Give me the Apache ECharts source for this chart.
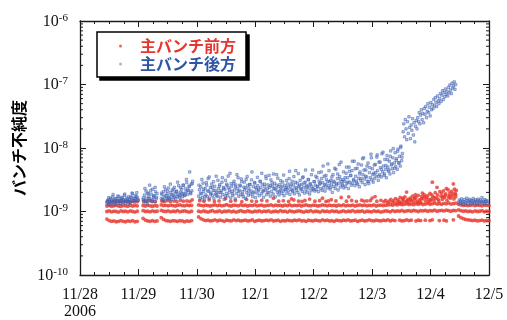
<!DOCTYPE html>
<html>
<head>
<meta charset="utf-8">
<script src="https://cdn.jsdelivr.net/npm/echarts@6.0.0/dist/echarts.min.js"></script>
<style>
  html, body { margin: 0; padding: 0; background: #fff; }
  #chart { width: 507px; height: 320px; }
</style>
</head>
<body>
<div id="chart"></div>
<script>
// x: days elapsed since 2006-11-28 00:00, y: bunch impurity (log scale)
const dayLabels = ['11/28\n2006', '11/29', '11/30', '12/1', '12/2', '12/3', '12/4', '12/5'];
const yMinExp = -10;
const yMaxExp = -6;
const UNIT = 1e-9;   // all readings below are in units of 1e-9

// Start of each logging run (days); readings inside a run are evenly spaced
const runStart = [0.46, 1.08, 1.39, 2.03, 6.48];
const frontStep = 0.04;
const backStep = 0.0125;
const backStep2 = 0.025;
const backOffset2 = 0.006;

// Main bunch, front side: three discrete levels, one list per run (null = no reading)
const frontLevelHigh = [
  [1.22,1.24,1.21,1.23,1.25,1.22,1.20,1.24,1.23,1.21,1.25,1.22,1.24,1.23],
  [1.24,1.22,1.25,1.23,1.21,1.24,1.22],
  [1.27,1.24,1.25,1.23,1.26,1.24,1.22,1.25,1.27,1.24,1.23,1.26,1.24,1.25],
  [1.27,1.25,1.23,1.26,1.24,1.22,1.25,1.27,1.24,1.26,
   1.23,1.25,1.28,1.24,1.22,1.26,1.25,1.23,1.27,1.24,
   1.26,1.22,1.25,1.24,1.27,1.23,1.25,1.26,1.22,1.24,
   1.25,1.27,1.23,1.26,1.24,1.25,1.22,1.26,1.24,1.27,
   1.23,1.25,1.24,1.26,1.22,1.25,1.27,1.24,1.23,1.26,
   1.25,1.22,1.24,1.27,1.25,1.23,1.26,1.24,1.25,1.22,
   1.26,1.24,1.27,1.23,1.25,1.24,1.26,1.22,1.25,1.27,
   1.24,1.26,1.23,1.25,1.24,1.27,1.22,1.25,1.26,1.24,
   1.25,1.27,1.29,1.26,1.30,1.27,1.31,1.28,1.30,1.32,
   1.29,1.31,1.28,1.32,1.30,1.33,1.29,1.31,1.34,1.30,
   1.32,1.35,1.31,1.33,1.30,1.34,1.32,1.36,1.31,1.33,
   1.35],
  [1.30,1.27,1.25,1.26,1.24,1.25,1.27,1.24,1.26,1.25,1.23,1.26,1.25,1.24]
];
const frontLevelMid = [
  [1.00,1.02,0.99,1.01,1.00,0.98,1.02,1.00,1.01,0.99,1.02,1.00,0.98,1.01],
  [1.03,1.00,1.01,0.99,1.02,1.00,1.01],
  [1.04,1.01,1.00,1.02,0.99,1.01,1.00,1.03,0.99,1.01,1.02,1.00,0.98,1.01],
  [1.01,0.99,1.02,1.00,0.98,1.01,1.03,0.99,1.00,1.02,
   0.98,1.01,1.00,1.02,0.99,1.01,0.98,1.00,1.03,1.00,
   0.99,1.02,1.00,0.98,1.01,1.00,1.02,0.99,1.01,1.00,
   1.02,0.98,1.00,1.01,0.99,1.03,1.00,1.01,0.98,1.02,
   1.00,0.99,1.01,1.02,1.00,0.98,1.01,1.00,1.03,0.99,
   1.01,1.00,0.98,1.02,1.00,1.01,0.99,1.02,1.00,1.01,
   0.98,1.00,1.02,0.99,1.01,1.00,1.03,0.99,1.01,1.00,
   1.02,0.98,1.01,1.00,0.99,1.02,1.00,1.01,0.98,1.00,
   1.02,1.01,0.99,1.03,1.00,1.02,1.01,1.04,1.00,1.02,
   1.03,1.01,1.04,1.02,1.00,1.03,1.02,1.04,1.01,1.03,
   1.02,1.05,1.01,1.03,1.04,1.02,1.05,1.03,1.01,1.04,
   1.03],
  [1.06,1.03,1.01,1.02,1.00,1.01,0.99,1.02,1.00,1.01,1.03,0.99,1.01,1.00]
];
const frontLevelLow = [
  [0.76,0.72,0.70,0.71,0.69,0.70,0.72,0.70,0.69,0.71,0.70,0.72,0.69,0.70],
  [0.78,0.73,0.71,0.70,0.72,0.70,0.71],
  [0.80,0.75,0.72,0.71,0.70,0.72,0.71,0.70,0.72,0.71,0.69,0.71,0.70,0.72],
  [0.82,0.77,0.74,0.72,0.73,0.71,0.72,0.74,0.71,0.73,
   0.72,0.70,0.73,0.72,0.71,0.74,0.72,0.73,0.71,0.72,
   0.73,0.71,0.72,0.74,0.70,0.72,0.73,0.71,0.72,0.73,
   0.72,0.74,0.71,0.72,0.73,0.70,0.72,0.71,0.73,0.72,
   0.71,0.73,0.72,0.74,0.71,0.72,0.70,0.73,0.72,0.71,
   0.73,0.72,0.71,0.74,0.72,0.73,0.71,0.72,0.70,0.73,
   0.72,0.71,0.73,0.72,0.74,0.71,0.72,0.73,0.70,0.72,
   0.73,0.71,0.72,0.74,0.72,0.71,0.73,0.72,0.71,0.73,
   0.72,0.74,0.71,0.73,0.72,null,0.73,0.71,0.72,0.74,
   0.72,0.73,null,0.71,0.73,0.72,null,0.73,null,0.72,
   0.74,null,null,0.72,null,0.73,0.71,null,null,0.74,
   null],
  [0.85,0.80,0.77,0.75,0.74,0.73,0.72,0.73,0.71,0.72,0.73,0.71,0.72,0.72]
];
// Front-side readings off the main levels: [day, value]
const frontOutliers = [
  [0.47,1.45],[0.52,1.43],[0.57,1.46],[0.61,1.42],[0.66,1.44],[0.71,1.47],[0.75,1.43],[0.80,1.45],
  [0.85,1.41],[0.89,1.44],[0.94,1.46],[0.98,1.43],
  [1.09,1.47],[1.13,1.44],[1.18,1.49],[1.24,1.45],[1.29,1.42],
  [1.40,1.46],[1.44,1.43],[1.50,1.48],[1.55,1.44],[1.61,1.46],[1.66,1.42],[1.72,1.50],[1.77,1.45],
  [1.83,1.47],[1.88,1.44],[1.92,1.52],
  [2.05,1.48],[2.12,1.45],[2.21,1.52],[2.30,1.44],[2.38,1.47],[2.49,1.60],[2.58,1.45],[2.66,1.49],
  [2.77,1.43],[2.85,1.55],[2.94,1.46],[3.02,1.44],[3.11,1.50],[3.20,1.47],[3.31,1.62],[3.40,1.45],
  [3.48,1.48],[3.57,1.44],[3.62,1.58],[3.66,1.52],[3.74,1.46],[3.80,1.44],[3.85,1.49],[3.93,1.57],
  [4.02,1.45],[4.10,1.48],[4.15,1.62],[4.21,1.44],[4.25,1.47],[4.30,1.53],[4.38,1.47],[4.47,1.66],
  [4.56,1.45],[4.60,1.70],[4.65,1.49],[4.73,1.44],[4.82,1.51],[4.86,1.46],[4.91,1.47],[4.97,1.49],
  [5.00,1.63],[5.05,1.72],[5.08,1.45],[5.15,1.50],
  [5.20,1.42],[5.23,1.50],[5.26,1.38],[5.29,1.45],[5.32,1.55],[5.35,1.40],[5.37,1.48],[5.40,1.60],
  [5.42,1.36],[5.44,1.52],[5.46,1.44],[5.48,1.66],[5.50,1.39],[5.52,1.57],[5.54,1.47],[5.56,1.70],
  [5.58,1.42],[5.59,2.02],[5.61,1.55],[5.63,1.37],[5.65,1.62],[5.67,1.49],[5.69,1.75],[5.71,1.41],
  [5.73,1.58],[5.75,1.68],[5.77,1.45],[5.79,1.80],[5.81,1.52],[5.83,1.40],[5.85,1.72],[5.87,1.60],
  [5.89,1.85],[5.91,1.47],[5.93,1.66],[5.95,1.78],[5.97,1.42],[5.99,1.92],[6.01,1.56],[6.03,2.90],
  [6.04,1.70],[6.06,1.48],[6.08,1.98],[6.10,1.62],[6.12,1.82],[6.14,1.45],[6.16,2.05],[6.18,1.74],
  [6.20,1.55],[6.22,2.12],[6.24,1.66],[6.26,1.90],[6.28,1.50],[6.30,2.20],[6.32,1.78],[6.34,1.62],
  [6.36,2.08],[6.38,1.88],[6.39,2.72],[6.40,1.58],[6.41,2.25],[6.42,1.95],[6.43,1.70],[6.44,2.15],
  [5.47,1.35],[5.53,1.62],[5.60,1.48],[5.66,1.53],[5.72,1.63],[5.78,1.38],[5.84,1.58],[5.90,1.70],
  [5.96,1.55],[6.02,1.83],[6.07,1.65],[6.13,1.55],[6.19,1.95],[6.25,1.80],[6.31,1.68],[6.37,1.75],
  [6.43,1.85],[6.00,1.50],[6.11,2.40],[6.27,2.30],[6.33,1.95],[5.86,1.95],[5.74,1.85],[6.21,1.70]
];

// Main bunch, back side: one list per run
const backReadings = [
  [1.35,1.48,1.28,1.55,1.40,1.62,1.33,1.45,1.70,1.38,
   1.52,1.30,1.60,1.44,1.36,1.75,1.50,1.42,1.58,1.32,
   1.47,1.66,1.39,1.54,1.80,1.45,1.35,1.63,1.50,1.41,
   1.72,1.56,1.38,1.48,1.68,1.90,1.46,1.60,1.40,1.77,
   1.53,1.98,1.64,1.49],
  [1.55,1.38,1.82,1.47,2.10,1.62,1.35,1.95,1.70,2.60,
   1.50,1.88,1.42,2.25,1.66,1.78,1.45,2.05,1.58,1.92],
  [1.60,1.85,1.52,2.05,1.72,1.48,2.20,1.66,1.90,1.58,
   2.35,1.75,1.62,2.00,1.54,2.15,1.80,1.68,2.40,1.95,
   1.57,2.10,1.73,1.88,2.55,1.65,2.02,1.82,2.25,1.70,
   2.60,1.92,1.78,2.30,2.05,2.85,1.86,2.18,2.48,4.20,
   1.98,2.70,2.12,3.00],
  [1.75,2.20,1.58,2.45,1.90,1.66,2.80,2.05,1.52,2.30,
   1.82,2.60,1.70,3.30,2.10,1.62,2.38,1.95,2.70,1.78,
   2.15,1.60,2.50,1.88,3.60,2.02,1.72,2.28,1.98,2.65,
   1.68,2.12,2.90,1.85,2.40,1.55,2.22,3.10,1.93,2.55,
   1.76,2.35,2.00,4.00,1.64,2.48,2.08,1.80,2.75,2.18,
   1.58,2.62,1.92,2.30,3.40,1.74,2.15,2.52,1.86,2.95,
   2.05,1.70,2.42,2.20,1.62,3.20,1.98,2.58,1.80,2.32,
   2.68,1.88,2.10,4.20,1.72,2.45,2.02,2.85,1.66,2.25,
   1.95,2.55,2.12,1.78,3.00,2.38,1.90,2.70,2.05,1.68,
   2.48,2.18,3.60,1.84,2.28,2.62,1.98,2.40,1.75,3.15,
   2.08,2.52,1.88,2.30,2.78,1.70,2.20,3.80,2.00,2.45,
   1.82,2.65,2.15,2.35,1.92,2.90,2.10,1.78,2.58,2.25,
   2.40,1.95,2.72,2.12,3.30,1.86,2.50,2.22,3.00,2.05,
   2.62,1.90,2.35,4.40,2.15,2.80,2.00,2.48,1.82,3.10,
   2.28,2.68,2.08,3.50,2.42,1.95,2.90,2.20,2.55,2.02,
   3.20,2.35,1.88,2.75,2.12,2.50,4.50,2.25,2.95,2.10,
   2.60,2.20,3.40,2.45,2.05,3.00,2.70,2.30,4.20,2.15,
   2.85,2.40,3.60,2.10,2.65,3.20,2.35,5.60,2.55,2.95,
   2.25,3.10,2.70,2.00,3.80,2.48,2.90,2.30,4.60,2.62,
   3.30,2.18,2.80,3.55,2.42,6.00,2.95,2.58,3.15,2.35,
   3.00,2.50,4.00,2.75,3.40,2.30,5.00,2.90,3.70,2.60,
   4.40,2.80,3.20,6.20,2.55,3.60,3.00,4.80,2.70,3.35,
   2.45,4.20,3.10,5.40,2.85,3.80,7.00,3.25,2.65,4.50,
   3.50,3.00,5.80,2.75,4.10,3.40,8.00,3.15,4.70,2.90,
   4.00,3.30,5.50,3.60,7.20,4.40,3.10,6.00,3.80,4.90,
   3.50,8.10,4.20,5.20,3.70,6.60,4.60,3.40,7.60,5.00,
   4.30,6.20,3.90,9.00,5.40,4.70,7.00,4.10,5.80,8.40,
   5.10,6.80,4.60,9.60,5.80,7.40,5.20,10.7,6.30,8.20,
   18.0,24.0,15.0,28.0,20.0,13.5,26.0,17.0,31.0,21.0,
   14.0,23.0,19.0,29.0,16.0,25.0,12.5,22.0,27.0,20.0,
   30.0,26.0,36.0,24.0,33.0,40.0,28.0,35.0,25.0,42.0,
   34.0,45.0,30.0,38.0,50.0,36.0,44.0,32.0,52.0,40.0,
   48.0,42.0,58.0,46.0,62.0,52.0,45.0,66.0,55.0,50.0,
   60.0,72.0,54.0,68.0,80.0,58.0,75.0,64.0,85.0,70.0,
   78.0,66.0,90.0,74.0,98.0,82.0,72.0,105.0,88.0,95.0,
   110.0,84.0,100.0],
  [1.40,1.52,1.35,1.46,1.58,1.38,1.44,1.30,1.55,1.42,
   1.36,1.62,1.48,1.33,1.45,1.56,1.39,1.50,1.34,1.47,
   1.60,1.41,1.37,1.53,1.44,1.32,1.49,1.57,1.40,1.36,
   1.51,1.43,1.65,1.38,1.46,1.34,1.54,1.42,1.48,1.35,
   1.45]
];
// Back side, interleaved second reading set (runs 1-4, until the jump on 12/3)
const backReadings2 = [
  [1.42,1.65,1.30,1.52,1.85,1.38,1.58,1.47,1.72,1.34,1.62,
   1.50,1.88,1.44,1.56,1.36,1.68,1.95,1.48,1.60,1.74,1.52],
  [1.65,2.30,1.45,1.90,1.60,2.15,1.52,1.75,2.40,1.68],
  [1.95,1.55,2.45,1.78,2.10,1.62,2.70,1.85,2.25,1.70,2.05,
   2.90,1.76,2.38,1.95,2.60,1.82,3.20,2.15,2.50,1.90,2.75],
  [2.60,1.95,3.20,2.25,1.72,2.85,2.10,3.50,1.88,2.40,
   2.95,2.15,1.80,3.10,2.50,2.00,3.40,2.30,1.75,2.70,
   3.60,2.20,2.75,1.90,3.00,2.45,3.80,2.05,2.60,3.25,
   1.85,2.90,2.35,3.55,2.10,2.65,3.15,1.95,2.80,2.40,
   3.45,2.25,2.95,4.00,2.15,2.70,3.30,2.00,3.70,2.55,
   2.85,3.90,2.30,2.60,3.35,2.05,3.05,2.50,3.75,2.20,
   3.10,2.40,4.30,2.70,2.15,3.55,2.90,2.35,3.95,2.60,
   2.25,3.40,2.80,4.50,2.45,3.15,2.65,3.80,2.30,2.95,
   3.60,2.50,4.10,2.80,3.30,5.20,2.60,3.70,2.95,4.40,
   2.40,3.50,3.00,4.80,2.75,3.90,5.50,3.20,2.70,4.20,
   3.40,5.00,2.90,4.30,3.70,6.20,3.10,4.70,2.80,5.60,
   3.90,3.30,6.80,4.50,3.60,5.20,2.95,4.90,7.00,3.80,
   5.40,4.10,7.80,3.60,6.00,4.60,8.60,3.90,5.30,6.60,
   4.50,7.40,5.60,9.80,4.80,6.40,8.90,5.90,10.2,7.20]
];

// Log-axis minor tick mantissas (2..9 within each decade)
const minorMantissas = [2, 3, 4, 5, 6, 7, 8, 9];

function runsToPoints(runs, step, offset) {
  const pts = [];
  runs.forEach((run, r) => {
    run.forEach((v, i) => {
      if (v !== null) pts.push([runStart[r] + offset + i * step, v * UNIT]);
    });
  });
  return pts;
}

const frontData = []
  .concat(runsToPoints(frontLevelLow, frontStep, 0))
  .concat(runsToPoints(frontLevelMid, frontStep, 0))
  .concat(runsToPoints(frontLevelHigh, frontStep, 0))
  .concat(frontOutliers.map(p => [p[0], p[1] * UNIT]));
const backData = runsToPoints(backReadings, backStep, 0)
  .concat(runsToPoints(backReadings2, backStep2, backOffset2));

const minorTickData = [];
for (let e = yMinExp; e < yMaxExp; e++) {
  minorMantissas.forEach(m => minorTickData.push([0, m * Math.pow(10, e)]));
}

const AXIS_COLOR = '#1a1a1a';
const SERIF = 'Liberation Serif';
const JP = 'Noto Sans CJK JP';
const FRONT_NAME = '主バンチ前方';
const BACK_NAME = '主バンチ後方';
const yMin = Math.pow(10, yMinExp);
const yMax = Math.pow(10, yMaxExp);

const chart = echarts.init(document.getElementById('chart'), null, { renderer: 'canvas' });

const xCommon = {
  type: 'value', min: 0, max: 7, interval: 1,
  axisLine: { show: true, onZero: false, lineStyle: { color: AXIS_COLOR, width: 1.3 } },
  axisTick: { show: true, inside: true, length: 6, lineStyle: { color: AXIS_COLOR, width: 1 } },
  minorTick: { show: true, splitNumber: 4, length: 3, lineStyle: { color: AXIS_COLOR, width: 1 } },
  splitLine: { show: false }
};
const yCommon = {
  type: 'log', logBase: 10, min: yMin, max: yMax,
  axisLine: { show: true, onZero: false, lineStyle: { color: AXIS_COLOR, width: 1.3 } },
  axisTick: { show: true, inside: true, length: 6, lineStyle: { color: AXIS_COLOR, width: 1 } },
  splitLine: { show: false }
};

// Legend box; the second copy, filled black and shifted, acts as its drop shadow
const legendBase = {
  orient: 'vertical',
  padding: [6, 10, 5, 22],
  itemGap: 2,
  itemWidth: 3, itemHeight: 3,
  icon: 'circle',
  selectedMode: false,
  textStyle: { fontFamily: JP, fontSize: 16, fontWeight: 'bold', lineHeight: 16, padding: [0, 0, 0, 13] }
};

chart.setOption({
  animation: false,
  backgroundColor: '#fff',
  grid: { left: 80, right: 18, top: 21, bottom: 43, containLabel: false },
  legend: [
    Object.assign({}, legendBase, {
      left: 100, top: 35, z: 3,
      backgroundColor: '#000', borderColor: '#000', borderWidth: 1.5,
      data: [
        { name: FRONT_NAME, textStyle: { color: '#000' }, itemStyle: { color: '#000', borderWidth: 0 } },
        { name: BACK_NAME, textStyle: { color: '#000' }, itemStyle: { color: '#000', borderWidth: 0 } }
      ]
    }),
    Object.assign({}, legendBase, {
      left: 97, top: 32, z: 4,
      backgroundColor: '#fff', borderColor: '#000', borderWidth: 1.5,
      data: [
        { name: FRONT_NAME, textStyle: { color: '#e8362f' }, itemStyle: { color: '#ea3b33', borderWidth: 0 } },
        { name: BACK_NAME, textStyle: { color: '#2f55a6' }, itemStyle: { color: '#8ca6d8', borderWidth: 0 } }
      ]
    })
  ],
  xAxis: [
    Object.assign({}, xCommon, {
      position: 'bottom',
      axisLabel: {
        show: true, margin: 11,
        fontFamily: SERIF, fontSize: 16, lineHeight: 17, color: '#111',
        formatter: v => dayLabels[Math.round(v)]
      }
    }),
    Object.assign({}, xCommon, { position: 'top', axisLabel: { show: false } })
  ],
  yAxis: [
    Object.assign({}, yCommon, {
      position: 'left',
      name: 'バンチ不純度',
      nameLocation: 'middle',
      nameRotate: 90,
      nameGap: 50,
      nameTextStyle: { fontFamily: JP, fontSize: 16, fontWeight: 'bold', color: '#000' },
      axisLabel: {
        show: true, margin: 12,
        formatter: v => '{b|10}{s|' + Math.round(Math.log10(v)) + '}',
        rich: {
          b: { fontFamily: SERIF, fontSize: 16, color: '#111', verticalAlign: 'bottom' },
          s: { fontFamily: SERIF, fontSize: 11, color: '#111', verticalAlign: 'top', padding: [0, 0, 6, 0] }
        }
      }
    }),
    Object.assign({}, yCommon, { position: 'right', axisLabel: { show: false } })
  ],
  series: [
    {
      type: 'custom',
      name: 'minorTicks',
      silent: true,
      clip: false,
      xAxisIndex: 0, yAxisIndex: 0,
      data: minorTickData,
      renderItem: (params, api) => {
        const v = api.value(1);
        const pl = api.coord([0, v]);
        const pr = api.coord([7, v]);
        const st = { stroke: AXIS_COLOR, lineWidth: 1 };
        return {
          type: 'group',
          children: [
            { type: 'line', shape: { x1: pl[0], y1: pl[1], x2: pl[0] + 3, y2: pl[1] }, style: st },
            { type: 'line', shape: { x1: pr[0] - 3, y1: pr[1], x2: pr[0], y2: pr[1] }, style: st }
          ]
        };
      }
    },
    {
      type: 'scatter',
      name: FRONT_NAME,
      symbol: 'circle',
      symbolSize: 3.8,
      itemStyle: { color: '#e8382e' },
      data: frontData
    },
    {
      type: 'scatter',
      name: BACK_NAME,
      symbol: 'rect',
      symbolSize: 2.4,
      itemStyle: { color: 'rgba(105,135,208,0.55)', borderColor: '#3557a8', borderWidth: 0.6 },
      data: backData
    }
  ]
});
</script>
</body>
</html>
